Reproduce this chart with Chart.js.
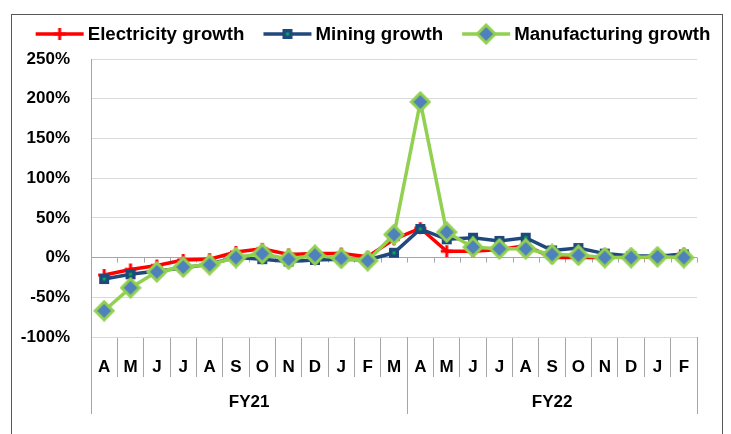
<!DOCTYPE html>
<html>
<head>
<meta charset="utf-8">
<script src="https://cdn.jsdelivr.net/npm/chart.js@4.4.0/dist/chart.umd.min.js"></script>
<style>
  html, body { margin: 0; background: #fff; }
</style>
</head>
<body>
<canvas id="growthChart" width="731" height="434"></canvas>
<script>
const MONTHS = ['A', 'M', 'J', 'J', 'A', 'S', 'O', 'N', 'D', 'J', 'F', 'M',
                'A', 'M', 'J', 'J', 'A', 'S', 'O', 'N', 'D', 'J', 'F'];
const FY_GROUPS = ['FY21', 'FY22'];
const FY_SIZES = [12, 11];

const ELECTRICITY   = [-22, -15, -10, -3, -2, 7, 11, 4, 5, 5, 1, 23, 37, 8, 8, 10, 15, 0, 0, 0, 1, 0, 5];
const MINING        = [-27, -21, -17, -13, -8, 0, -2, -5, -3, -2, -3, 6, 36, 23, 25, 21, 25, 9, 12, 5, 2, 2, 4];
const MANUFACTURING = [-67, -38, -18, -12, -9, 0, 5, -2, 3, -1, -4, 29, 196, 32, 13, 11, 11, 4, 3, 0, 0, 1, 0];

const Y_MIN = -100, Y_MAX = 250, Y_STEP = 50;

const FONT = '"Liberation Sans", Arial, sans-serif';

// ── Marker images ────────────────────────────────────
const makeMarker = (kind) => {
  const c = document.createElement('canvas');
  const g = c.getContext('2d');
  if (kind === 'plus') {
    c.width = 14; c.height = 14;
    g.fillStyle = '#FF0000';
    g.fillRect(5.5, 1, 3, 12);
    g.fillRect(1, 5.5, 12, 3);
  } else if (kind === 'square') {
    c.width = 12; c.height = 12;
    g.fillStyle = '#1F497D';
    g.fillRect(1, 1, 10, 10);
    g.fillStyle = '#00B050';
    g.fillRect(4.5, 4.5, 3, 3);
  } else {
    c.width = 22; c.height = 22;
    g.beginPath();
    g.moveTo(11, 2); g.lineTo(20, 11); g.lineTo(11, 20); g.lineTo(2, 11);
    g.closePath();
    g.fillStyle = '#4F81BD';
    g.fill();
    g.lineWidth = 3;
    g.strokeStyle = '#92D050';
    g.stroke();
  }
  return c;
};

const MARKERS = {
  plus: makeMarker('plus'),
  square: makeMarker('square'),
  diamond: makeMarker('diamond'),
};

// ── Plugins ──────────────────────────────────────────
const framePlugin = {
  id: 'frame',
  beforeDraw(chart) {
    const { ctx } = chart;
    ctx.save();
    ctx.fillStyle = '#fff';
    ctx.fillRect(0, 0, chart.width, chart.height);
    // frame runs off the bottom of the picture
    ctx.strokeStyle = '#595959';
    ctx.lineWidth = 1;
    ctx.strokeRect(11.5, 14.5, 711, 440);
    ctx.restore();
  },
};

const legendPlugin = {
  id: 'lineLegend',
  afterDraw(chart) {
    const { ctx } = chart;
    const sample = 48, gap = 4, spacing = 19, cy = 34, centerX = 373;
    ctx.save();
    ctx.font = `bold 18.7px ${FONT}`;
    ctx.textBaseline = 'middle';
    const items = chart.data.datasets.map(ds => ({ ds, w: ctx.measureText(ds.label).width }));
    const total = items.reduce((s, it) => s + sample + gap + it.w, 0) + spacing * (items.length - 1);
    let x = centerX - total / 2;
    items.forEach(({ ds, w }) => {
      ctx.strokeStyle = ds.borderColor;
      ctx.lineWidth = ds.borderWidth;
      ctx.beginPath();
      ctx.moveTo(x, cy);
      ctx.lineTo(x + sample, cy);
      ctx.stroke();
      const img = ds.pointStyle;
      ctx.drawImage(img, x + sample / 2 - img.width / 2, cy - img.height / 2);
      ctx.fillStyle = '#000';
      ctx.fillText(ds.label, x + sample + gap, cy + 1);
      x += sample + gap + w + spacing;
    });
    ctx.restore();
  },
};

const axisDecorPlugin = {
  id: 'axisDecor',
  beforeDatasetsDraw(chart) {
    // small tick marks hanging off the zero line
    const { ctx, scales: { x, y } } = chart;
    const y0 = y.getPixelForValue(0);
    const step = x.width / MONTHS.length;
    ctx.save();
    ctx.strokeStyle = '#a6a6a6';
    ctx.lineWidth = 1;
    ctx.beginPath();
    for (let k = 0; k <= MONTHS.length; k++) {
      const bx = Math.round(x.left + k * step) + 0.5;
      ctx.moveTo(bx, y0);
      ctx.lineTo(bx, y0 + 5);
    }
    ctx.stroke();
    ctx.restore();
  },
  afterDraw(chart) {
    // fiscal-year group separators and labels
    const { ctx, scales: { x }, chartArea } = chart;
    const step = x.width / MONTHS.length;
    ctx.save();
    ctx.strokeStyle = '#a6a6a6';
    ctx.lineWidth = 1;
    ctx.font = `bold 17px ${FONT}`;
    ctx.fillStyle = '#000';
    ctx.textAlign = 'center';
    ctx.textBaseline = 'middle';
    let start = 0;
    const bounds = [0];
    FY_GROUPS.forEach((g, i) => {
      const end = start + FY_SIZES[i];
      bounds.push(end);
      ctx.fillText(g, x.left + (start + end) / 2 * step, 402);
      start = end;
    });
    ctx.beginPath();
    bounds.forEach(b => {
      const bx = Math.round(x.left + b * step) + 0.5;
      ctx.moveTo(bx, chartArea.bottom);
      ctx.lineTo(bx, chartArea.bottom + 77);
    });
    ctx.stroke();
    ctx.restore();
  },
};

// ── Chart ────────────────────────────────────────────
const ctx = document.getElementById('growthChart').getContext('2d');
new Chart(ctx, {
  type: 'line',
  data: {
    labels: MONTHS,
    datasets: [
      {
        label: 'Electricity growth',
        data: ELECTRICITY,
        borderColor: '#FF0000',
        borderWidth: 3.5,
        pointStyle: MARKERS.plus,
        order: 3,
      },
      {
        label: 'Mining growth',
        data: MINING,
        borderColor: '#1F497D',
        borderWidth: 3.5,
        pointStyle: MARKERS.square,
        order: 2,
      },
      {
        label: 'Manufacturing growth',
        data: MANUFACTURING,
        borderColor: '#92D050',
        borderWidth: 3.5,
        pointStyle: MARKERS.diamond,
        order: 1,
      },
    ],
  },
  options: {
    responsive: false,
    animation: false,
    devicePixelRatio: 1,
    layout: { padding: { top: 59, right: 34, left: 0, bottom: 0 } },
    elements: { line: { tension: 0 } },
    scales: {
      x: {
        offset: true,
        afterFit: s => { s.height = 97; },
        border: { display: false },
        grid: {
          offset: true,
          drawOnChartArea: false,
          tickLength: 40,
          color: '#a6a6a6',
        },
        ticks: {
          autoSkip: false,
          maxRotation: 0,
          padding: -20,
          color: '#000',
          font: { family: FONT, size: 17, weight: 'bold' },
        },
      },
      y: {
        min: Y_MIN,
        max: Y_MAX,
        afterFit: s => { s.width = 91; },
        border: { display: true, color: '#a6a6a6' },
        grid: {
          drawTicks: false,
          color: c => (c.tick && c.tick.value === 0 ? '#a6a6a6' : '#d9d9d9'),
        },
        ticks: {
          stepSize: Y_STEP,
          padding: 21,
          color: '#000',
          font: { family: FONT, size: 17, weight: 'bold' },
          callback: v => v + '%',
        },
      },
    },
    plugins: {
      legend: { display: false },
      tooltip: { enabled: false },
    },
  },
  plugins: [framePlugin, legendPlugin, axisDecorPlugin],
});
</script>
</body>
</html>
